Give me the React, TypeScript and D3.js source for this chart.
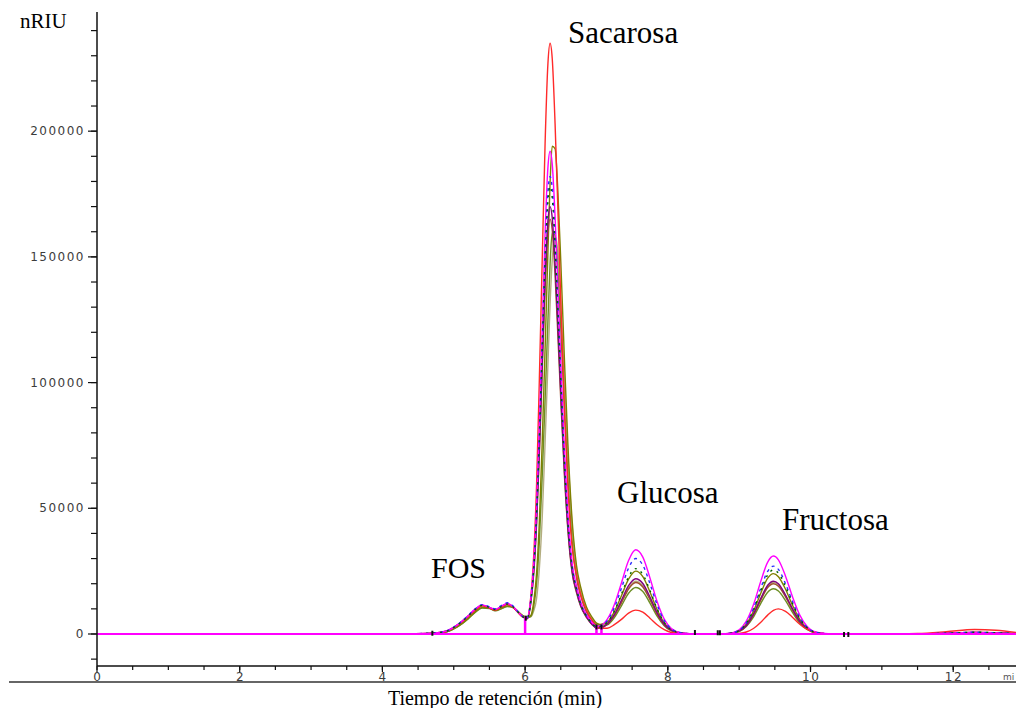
import React from 'react';
import * as d3 from 'd3';

// Retention time grid (min)
const TIME = [0, 4.0, 4.4, 4.7, 4.9, 5.05, 5.2, 5.3, 5.4, 5.5, 5.58, 5.68, 5.75, 5.82, 5.9, 5.97,
  6.03, 6.08, 6.12, 6.16, 6.2, 6.24, 6.28, 6.32, 6.35, 6.38, 6.42, 6.46, 6.5, 6.55, 6.6, 6.66, 6.72, 6.78, 6.86, 6.94, 7.0,
  7.05, 7.15, 7.25, 7.35, 7.45, 7.55, 7.65, 7.75, 7.85, 7.95, 8.05, 8.2, 8.4, 8.7,
  8.85, 9.0, 9.1, 9.2, 9.3, 9.4, 9.48, 9.55, 9.65, 9.75, 9.85, 9.95, 10.1, 10.3, 10.6, 11.0, 11.5, 11.9, 12.3, 12.6, 12.88];

// Signal (nRIU) of each chromatogram
const KHAKI = [0, 0, 50, 200, 850, 2800, 6000, 8700, 10400, 10200, 9300, 10300, 11000, 10700, 8900, 7200,
  6600, 6800, 9100, 14000, 26200, 46300, 76000, 107400, 131100, 148500, 158000, 151700, 131100, 101100, 71100, 42700, 25300, 16900, 9800, 5900, 4100,
  3600, 4000, 7500, 12700, 18300, 21000, 19200, 14000, 8100, 3700, 1400, 250, 0, 0,
  150, 1150, 3400, 7700, 13700, 18900, 20500, 19500, 15200, 9600, 4900, 2100, 400, 0, 0, -100, 0, 200, 500, 400, 100];
const YELLOWGREEN = [0, 0, 50, 200, 850, 2800, 6000, 8600, 10300, 10100, 9200, 10200, 10900, 10600, 8800, 7100,
  6500, 7000, 10800, 19800, 36900, 62900, 93000, 124800, 147200, 159500, 158500, 144000, 121600, 90200, 61800, 36800, 22400, 15200, 8800, 5400, 3500,
  3100, 3600, 6500, 11200, 16200, 18500, 16900, 12300, 7100, 3300, 1200, 200, 0, 0,
  100, 1000, 3000, 6750, 12000, 16600, 18000, 17100, 13300, 8500, 4300, 1800, 300, 0, 0, -100, 0, 200, 500, 400, 100];
const OLIVE = [0, 0, 50, 200, 900, 2900, 6200, 8900, 10600, 10400, 9400, 10500, 11200, 10900, 9000, 7300,
  6600, 7400, 12700, 23800, 44800, 76500, 113300, 152100, 179400, 194000, 193000, 175500, 148200, 110000, 75300, 44900, 27300, 18500, 10700, 6600, 4300,
  3800, 4700, 8800, 15200, 21800, 25000, 22800, 16700, 9700, 4400, 1700, 300, 0, 0,
  200, 1300, 3900, 9000, 16000, 22200, 24000, 22800, 17800, 11300, 5800, 2400, 500, 0, 0, -100, 0, 200, 600, 500, 100];
const BROWN = [0, 0, 100, 250, 1100, 3400, 6900, 9500, 11200, 10300, 9500, 10900, 11700, 10900, 8600, 6800,
  6100, 12400, 23800, 43200, 71600, 104700, 137000, 159600, 165000, 160700, 142700, 118300, 93100, 63700, 41100, 24100, 16500, 10900, 6600, 3700, 2400,
  2400, 3800, 7200, 12400, 17900, 20500, 18700, 13700, 7900, 3600, 1400, 250, 0, 0,
  150, 1100, 3300, 7500, 13300, 18500, 20000, 19000, 14800, 9400, 4800, 2000, 400, 0, 0, -100, 0, 300, 600, 400, 100];
const PURPLE = [0, 0, 100, 300, 1200, 3600, 7100, 9800, 11500, 10500, 9700, 11200, 12000, 11100, 8700, 6800,
  6100, 12700, 24500, 44500, 73700, 107900, 141100, 164400, 170000, 165600, 147000, 121900, 95900, 65600, 42300, 24800, 17000, 11200, 6800, 3800, 2500,
  2500, 4000, 7700, 13400, 19200, 22000, 20100, 14700, 8500, 3900, 1500, 300, 0, 0,
  150, 1200, 3400, 7900, 14000, 19400, 21000, 20000, 15500, 9900, 5000, 2100, 400, 0, 0, -100, 0, 300, 600, 400, 100];
const RED = [0, 0, 100, 300, 1100, 3400, 6900, 9500, 11200, 10300, 9500, 11000, 11800, 10900, 8600, 6700,
  6600, 14900, 30900, 58600, 101700, 149000, 195000, 227000, 235000, 229000, 203000, 168500, 132500, 90700, 58500, 34300, 23500, 15500, 9400, 5200, 3200,
  2400, 2300, 3700, 5800, 8300, 9500, 8700, 6300, 3700, 1700, 600, 100, 0, 0,
  0, 250, 800, 2200, 4600, 7500, 9400, 10000, 9000, 6600, 3900, 1900, 400, 30, 0, 0, 200, 900, 1800, 1500, 600];
const MAGENTA = [0, 0, 100, 300, 1200, 3600, 7200, 9900, 11600, 10600, 9800, 11300, 12100, 11200, 8800, 6900,
  6500, 14100, 27400, 50200, 83200, 121500, 159400, 185700, 192000, 187000, 166000, 137700, 108300, 74100, 47800, 28000, 19200, 12700, 7700, 4500, 3000,
  3200, 5800, 11600, 20300, 29200, 33500, 30600, 22300, 12900, 5900, 2200, 400, 0, 0,
  200, 1700, 5100, 11600, 20700, 28600, 31000, 29500, 23000, 14600, 7500, 3100, 600, 0, 0, -100, 0, 300, 600, 400, 100];
const BLUE = [0, 0, 100, 300, 1200, 3700, 7300, 10000, 11700, 10800, 10000, 11600, 12400, 11400, 8900, 6900,
  6400, 13500, 26100, 47600, 78900, 115500, 151100, 176000, 182000, 177300, 157400, 130500, 102600, 70300, 45300, 26600, 18200, 12000, 7300, 4200, 2900,
  3100, 5200, 10400, 18200, 26200, 30000, 27400, 20000, 11600, 5300, 2000, 400, 0, 0,
  200, 1500, 4400, 10100, 18000, 24900, 27000, 25700, 20000, 12700, 6500, 2700, 500, 0, 0, -100, 0, 300, 700, 500, 100];
const DARKGREEN = [0, 0, 100, 300, 1150, 3500, 7000, 9700, 11400, 10500, 9700, 11100, 11900, 11000, 8700, 6800,
  6300, 13200, 25500, 46600, 77100, 113000, 147700, 172100, 178000, 173400, 154000, 127600, 100400, 68700, 44300, 26000, 17800, 11700, 7100, 4100, 2700,
  2800, 4600, 9100, 15800, 22700, 26000, 23700, 17300, 10000, 4600, 1700, 300, 0, 0,
  200, 1400, 4200, 9600, 17000, 23500, 25500, 24200, 18900, 12000, 6100, 2600, 500, 0, 0, -100, 0, 300, 700, 500, 100];

// Integration markers (time, signal)
const DROP_TIMES = [6.0, 7.0, 7.07];
const DROP_VALUES = [6300, 2800, 2800];
const MARK_TIMES = [4.7, 6.01, 7.0, 7.07, 8.38, 8.7, 8.73, 10.47, 10.53];
const MARK_VALUES = [300, 6300, 2800, 2800, 600, 500, 500, -200, -200];

const Y_MAJOR = [0, 50000, 100000, 150000, 200000];
const Y_MINOR = d3.range(-10000, 240001, 10000);
const X_MAJOR = [0, 2, 4, 6, 8, 10, 12];
const X_MINOR = d3.range(0, 12.51, 0.5);

const SERIES = [
  { color: '#b3ad80', values: KHAKI, dash: null },
  { color: '#6b8e23', values: YELLOWGREEN, dash: null },
  { color: '#808000', values: OLIVE, dash: null },
  { color: '#a0522d', values: BROWN, dash: null },
  { color: '#800080', values: PURPLE, dash: null },
  { color: '#ff2a2a', values: RED, dash: null },
  { color: '#ff00ff', values: MAGENTA, dash: null },
  { color: '#2a2aff', values: BLUE, dash: '3,4' },
  { color: '#006400', values: DARKGREEN, dash: '2,5' },
];

export default function App() {
  const x = d3.scaleLinear().domain([0, 12.88]).range([97, 1016]);
  const y = d3.scaleLinear().domain([-12730, 247400]).range([666, 12]);
  const line = d3.line()
    .x((d: any) => x(d[0]))
    .y((d: any) => y(d[1]))
    .curve(d3.curveMonotoneX);

  const tickFont = { fontFamily: 'DejaVu Sans, sans-serif', fontSize: 12, letterSpacing: 1.5, fill: '#3c3c3c' };
  const serif = 'Liberation Serif, Times New Roman, serif';

  return (
    <svg width={1016} height={708} style={{ position: 'absolute', left: 0, top: 0, background: '#fff' }}>
      <rect x={0} y={0} width={1016} height={708} fill="#fff" />
      {SERIES.map((s, i) => (
        <path key={i}
          d={line(TIME.map((t, j) => [t, s.values[j]]) as any) || ''}
          fill="none" stroke={s.color} strokeWidth={1.4}
          strokeDasharray={s.dash || undefined} strokeLinejoin="round" />
      ))}
      <line x1={x(0)} x2={x(12.88)} y1={y(0)} y2={y(0)} stroke="#ff00ff" strokeWidth={2.2} />
      {DROP_TIMES.map((t, i) => (
        <line key={'d' + i} x1={x(t)} x2={x(t)} y1={y(0)} y2={y(DROP_VALUES[i])} stroke="#ff00ff" strokeWidth={2.5} />
      ))}
      {MARK_TIMES.map((t, i) => (
        <rect key={'m' + i} x={x(t) - 1} y={y(MARK_VALUES[i]) - 2.5} width={2} height={5} fill="#111" />
      ))}
      <line x1={97} x2={97} y1={y(247400)} y2={666} stroke="#111" strokeWidth={1.5} />
      {Y_MINOR.map((v) => (
        <line key={'ym' + v} x1={91} x2={97} y1={y(v)} y2={y(v)} stroke="#111" strokeWidth={1.2} />
      ))}
      {Y_MAJOR.map((v) => (
        <g key={'yM' + v}>
          <line x1={88} x2={97} y1={y(v)} y2={y(v)} stroke="#111" strokeWidth={1.2} />
          <text x={85} y={y(v) + 4} textAnchor="end" style={tickFont as any}>{v}</text>
        </g>
      ))}
      <line x1={97} x2={1016} y1={666} y2={666} stroke="#111" strokeWidth={1.5} />
      {X_MINOR.map((t) => (
        <line key={'xm' + t} x1={x(t)} x2={x(t)} y1={666} y2={670} stroke="#111" strokeWidth={1.2} />
      ))}
      {X_MAJOR.map((t) => (
        <g key={'xM' + t}>
          <line x1={x(t)} x2={x(t)} y1={666} y2={672} stroke="#111" strokeWidth={1.2} />
          <text x={x(t) + 0.75} y={681} textAnchor="middle" style={tickFont as any}>{t}</text>
        </g>
      ))}
      <text x={1003} y={680} style={{ fontFamily: 'DejaVu Sans, sans-serif', fontSize: 9, fill: '#555' }}>mi</text>
      <line x1={9} x2={1016} y1={682} y2={682} stroke="#333" strokeWidth={1.6} />
      <text x={20} y={28} style={{ fontFamily: serif, fontSize: 21, fill: '#000' }}>nRIU</text>
      <text x={495} y={705} textAnchor="middle" style={{ fontFamily: serif, fontSize: 20, fill: '#000' }}>Tiempo de retención (min)</text>
      <text x={568} y={43} style={{ fontFamily: serif, fontSize: 31, fill: '#000' }}>Sacarosa</text>
      <text x={617} y={503} style={{ fontFamily: serif, fontSize: 31, fill: '#000' }}>Glucosa</text>
      <text x={782} y={530} style={{ fontFamily: serif, fontSize: 31, fill: '#000' }}>Fructosa</text>
      <text x={431} y={578} style={{ fontFamily: serif, fontSize: 30, fill: '#000' }}>FOS</text>
    </svg>
  );
}
